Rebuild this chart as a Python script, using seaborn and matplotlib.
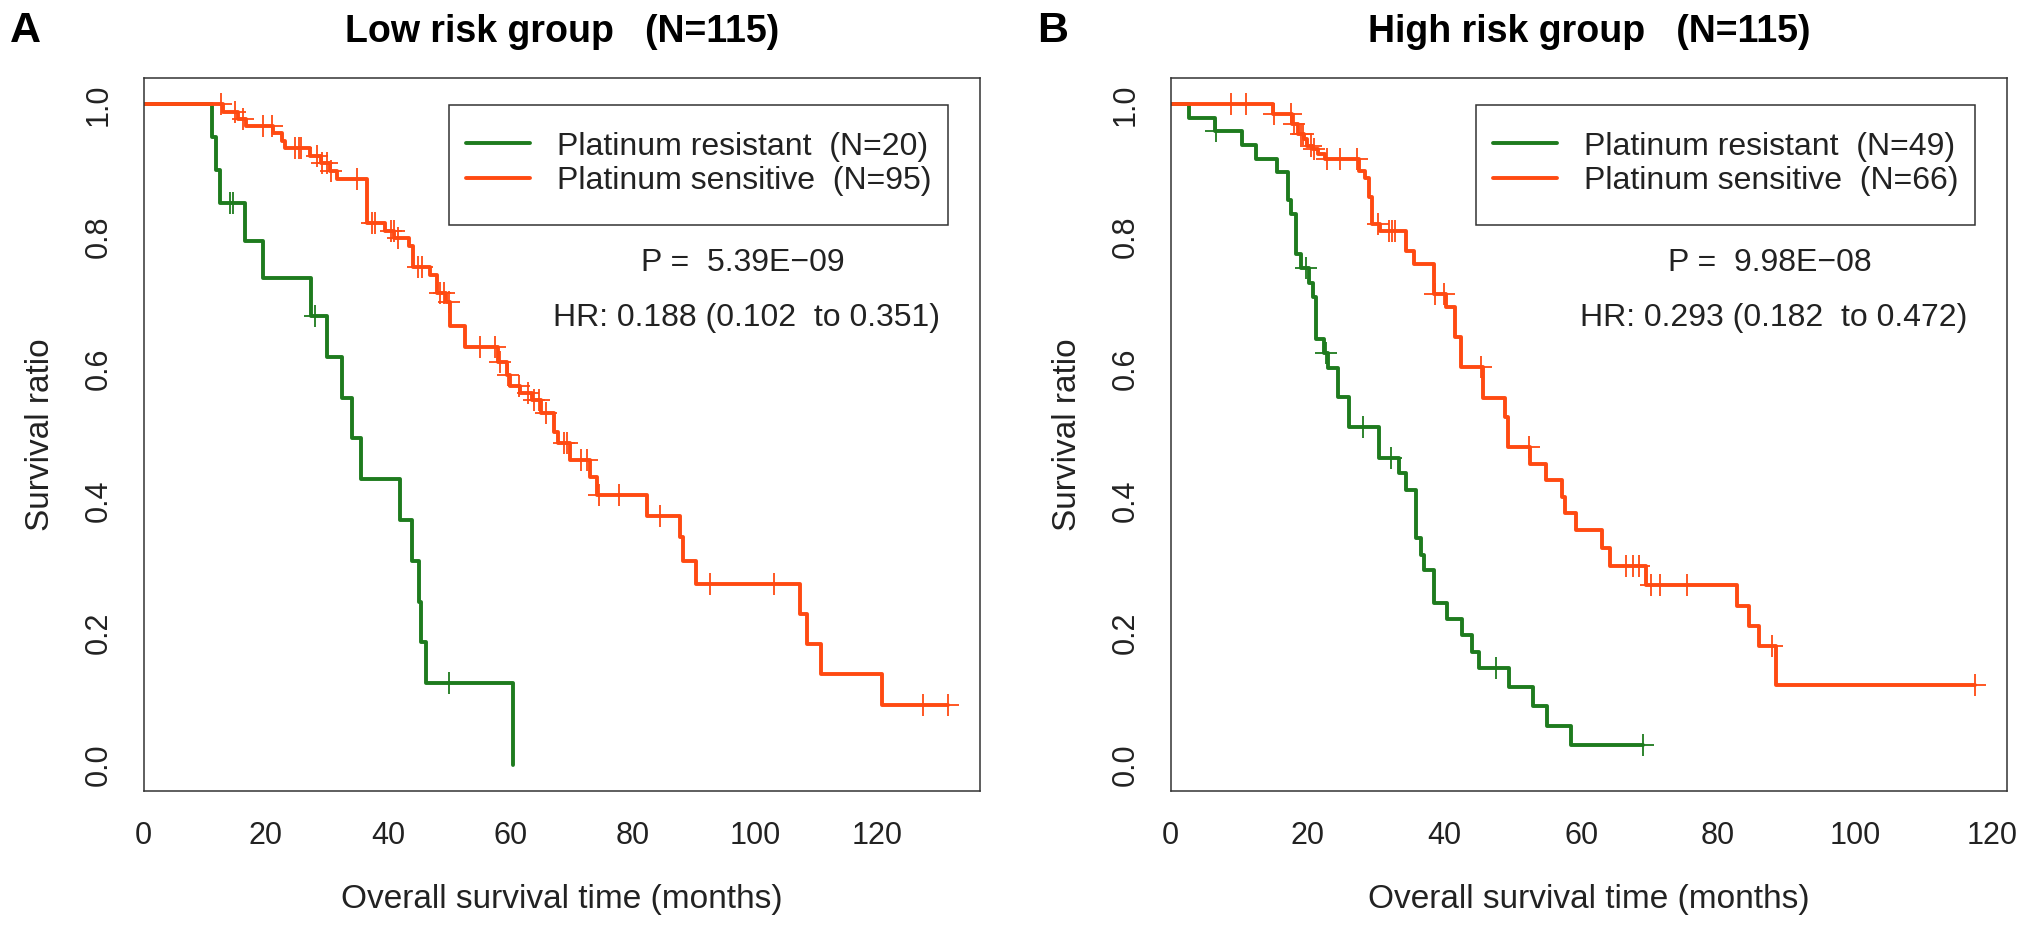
import numpy as np
import pandas as pd
import matplotlib
matplotlib.use("Agg")
import matplotlib.pyplot as plt
from matplotlib.lines import Line2D
from matplotlib.patches import Rectangle
import seaborn as sns

sns.set_theme(style="white")
plt.rcParams['font.family'] = ['Liberation Sans', 'DejaVu Sans']

GREEN = '#1e7b1e'
ORANGE = '#ff4a12'
INK = '#222222'

# ---- panel A: low risk group ----
low_res_t = [0, 11.2, 11.9, 12.5, 16.6, 19.5, 27.4, 30.0, 32.4, 34.1, 35.5, 42.0, 43.9, 45.0, 45.4, 46.2, 60.4]
low_res_s = [1.0, 0.95, 0.90, 0.85, 0.793, 0.737, 0.680, 0.618, 0.556, 0.495, 0.433, 0.371, 0.309, 0.247, 0.185, 0.124, 0.0]
low_res_cens = [14.2, 14.7, 28.1, 50.0]

low_sen_t = [0, 13.0, 15.4, 16.8, 21.2, 22.6, 23.2, 27.3, 29.0, 30.5, 31.6, 36.5, 39.5, 41.0, 43.5, 44.1,
             46.9, 48.0, 49.4, 50.2, 52.6, 58.0, 59.4, 60.0, 61.6, 63.5, 65.0, 67.2, 67.8, 69.8, 73.0,
             74.1, 82.4, 87.8, 88.3, 90.3, 107.3, 108.5, 110.8, 120.7, 131.5]
low_sen_s = [1.0, 0.989, 0.978, 0.967, 0.956, 0.945, 0.934, 0.922, 0.911, 0.899, 0.887, 0.821, 0.809, 0.797,
             0.785, 0.753, 0.741, 0.715, 0.700, 0.665, 0.632, 0.610, 0.590, 0.574, 0.563, 0.552, 0.532,
             0.504, 0.487, 0.461, 0.436, 0.408, 0.377, 0.345, 0.308, 0.274, 0.228, 0.183, 0.137, 0.091, 0.091]
low_sen_cens = [12.6, 15.0, 16.2, 19.6, 21.0, 24.8, 25.4, 25.8, 28.3, 29.2, 30.0, 30.6, 34.9, 37.4, 37.9,
                40.4, 40.9, 41.7, 44.9, 45.5, 48.5, 49.2, 50.0, 55.1, 57.5, 58.3, 59.6, 61.4, 62.8, 63.9,
                64.7, 65.8, 68.8, 69.3, 71.5, 72.6, 74.5, 77.7, 84.5, 92.7, 103.1, 127.5, 131.5]

# ---- panel B: high risk group ----
high_res_t = [0, 2.7, 6.5, 10.4, 12.5, 15.5, 17.1, 17.6, 18.3, 19.0, 20.2, 20.8, 21.3, 22.4, 23.0, 24.4,
              26.1, 30.5, 33.4, 34.4, 35.8, 36.6, 37.1, 38.5, 40.4, 42.6, 44.0, 45.0, 49.5, 53.0, 55.0,
              58.5, 69.0]
high_res_s = [1.0, 0.980, 0.959, 0.938, 0.918, 0.897, 0.855, 0.834, 0.773, 0.752, 0.730, 0.709, 0.645,
              0.623, 0.601, 0.557, 0.512, 0.465, 0.441, 0.416, 0.343, 0.318, 0.294, 0.245, 0.220, 0.196,
              0.171, 0.147, 0.117, 0.088, 0.059, 0.029, 0.029]
high_res_cens = [6.7, 19.8, 22.7, 28.1, 32.2, 47.5, 69.0]

high_sen_t = [0, 15.0, 17.8, 18.6, 19.5, 20.0, 20.8, 21.5, 22.5, 27.6, 28.4, 29.0, 29.5, 30.6, 34.4, 35.6,
              38.5, 40.2, 41.6, 42.4, 45.7, 48.9, 49.3, 52.5, 54.8, 57.2, 57.6, 59.2, 63.0, 64.2, 69.5,
              82.8, 84.5, 86.0, 88.4, 117.5]
high_sen_s = [1.0, 0.985, 0.970, 0.955, 0.947, 0.937, 0.932, 0.925, 0.917, 0.899, 0.889, 0.860, 0.819,
              0.809, 0.778, 0.758, 0.713, 0.693, 0.647, 0.602, 0.555, 0.527, 0.481, 0.456, 0.431, 0.406,
              0.381, 0.355, 0.328, 0.301, 0.272, 0.240, 0.210, 0.180, 0.121, 0.121]
high_sen_cens = [8.9, 11.0, 15.1, 17.6, 18.1, 19.0, 19.3, 20.5, 21.0, 22.8, 24.8, 27.2, 30.3, 31.9, 32.4,
                 32.8, 38.7, 39.9, 45.3, 52.3, 66.5, 67.5, 68.5, 70.2, 71.5, 75.5, 87.8, 117.5]

titles = ['Low risk group   (N=115)', 'High risk group   (N=115)']
letters = ['A', 'B']
legend_labels = [['Platinum resistant  (N=20)', 'Platinum sensitive  (N=95)'],
                 ['Platinum resistant  (N=49)', 'Platinum sensitive  (N=66)']]
p_texts = ['P =  5.39E\u221209', 'P =  9.98E\u221208']
hr_texts = ['HR: 0.188 (0.102  to 0.351)', 'HR: 0.293 (0.182  to 0.472)']
x_max = [136.8, 122.2]


def step_value(t, s, c):
    idx = np.searchsorted(t, c, side='right') - 1
    return np.asarray(s)[idx]


def draw_curve(ax, t, s, cens, color):
    df = pd.DataFrame({'time': t, 'surv': s})
    sns.lineplot(data=df, x='time', y='surv', ax=ax, color=color, linewidth=2.8,
                 drawstyle='steps-post', estimator=None, sort=False)
    cy = step_value(t, s, cens)
    sns.scatterplot(x=cens, y=cy, ax=ax, marker='+', s=230, color=color,
                    linewidth=1.3, zorder=3)


W, H = 2031, 932
fig = plt.figure(figsize=(W / 100, H / 100), dpi=100)
lefts = [143.5, 1170.5]
panels = [
    [(low_res_t, low_res_s, low_res_cens), (low_sen_t, low_sen_s, low_sen_cens)],
    [(high_res_t, high_res_s, high_res_cens), (high_sen_t, high_sen_s, high_sen_cens)],
]

for i in range(2):
    ax = fig.add_axes([lefts[i] / W, 1 - 791 / H, 836.5 / W, 713 / H])
    res, sen = panels[i]
    draw_curve(ax, *res, GREEN)
    draw_curve(ax, *sen, ORANGE)

    ax.set_xlim(0, x_max[i])
    ax.set_ylim(-0.04, 1.04)
    ax.set_xticks(range(0, 121, 20))
    yt = np.arange(0, 1.01, 0.2)
    ax.set_yticks(yt)
    ax.set_yticklabels([f'{v:.1f}' for v in yt], rotation=90, va='center')
    ax.tick_params(axis='both', direction='out', length=13.5, width=1.1, color='#333333',
                   labelsize=22, labelcolor=INK, pad=8)
    for sp in ax.spines.values():
        sp.set_visible(True)
        sp.set_linewidth(1.1)
        sp.set_color('#333333')

    ax.set_xlabel('Overall survival time (months)', fontsize=24, color=INK, labelpad=24)
    ax.set_ylabel('Survival ratio', fontsize=24, color=INK, labelpad=20)
    ax.text(0.5, 1.05, titles[i], transform=ax.transAxes, ha='center', va='baseline',
            fontsize=27, fontweight='bold', color='black')
    fig.text((10 + (lefts[i] - 143.5)) / W, 1 - 42 / H, letters[i], ha='left', va='baseline',
             fontsize=31, fontweight='bold', color='black')

    # legend box drawn as a plain rectangle, entries placed inside it
    ax.add_patch(Rectangle((0.365, 0.794), 0.597, 0.168, transform=ax.transAxes,
                           facecolor='white', edgecolor='#333333', lw=1.1, zorder=4))
    handles = [Line2D([], [], color=GREEN, lw=2.8), Line2D([], [], color=ORANGE, lw=2.8)]
    leg = ax.legend(handles, legend_labels[i], loc='center left', bbox_to_anchor=(0.3855, 0.8794),
                    borderaxespad=0, borderpad=0, fontsize=23, frameon=False,
                    handlelength=2.0, handletextpad=0.85, labelspacing=0.15)
    leg.set_zorder(5)
    for txt in leg.get_texts():
        txt.set_color(INK)

    ax.text(0.716, 0.741, p_texts[i], transform=ax.transAxes, ha='center', va='center',
            fontsize=23, color=INK)
    ax.text(0.721, 0.663, hr_texts[i], transform=ax.transAxes, ha='center', va='center',
            fontsize=23, color=INK)

fig.savefig('out.png', dpi=100)
